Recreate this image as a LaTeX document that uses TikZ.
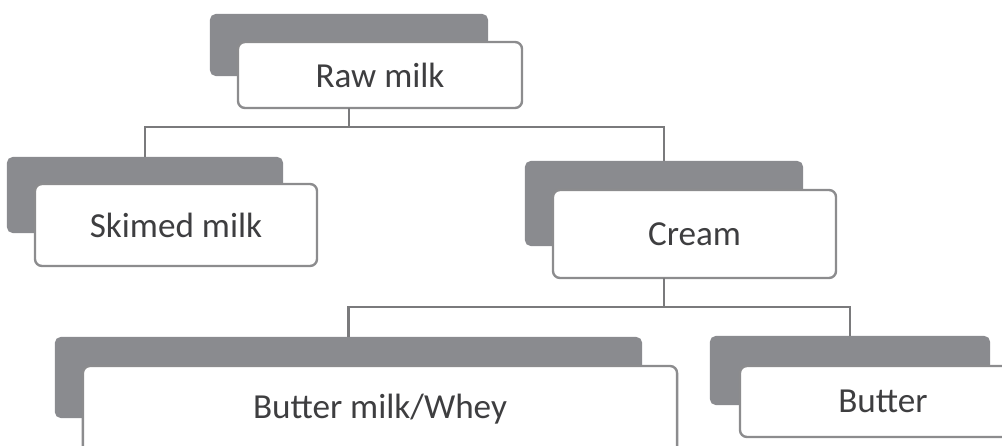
\documentclass[tikz,border=0pt]{standalone}
\usepackage{fontspec}
\setmainfont{Carlito}
\usetikzlibrary{positioning}
\definecolor{milkDark}{RGB}{138,139,143}
\definecolor{milkEdge}{RGB}{140,140,142}
\definecolor{milkLine}{RGB}{122,122,124}
\definecolor{milkText}{RGB}{62,62,64}

\begin{document}
\begin{tikzpicture}[
  x=0.025cm, y=-0.025cm,
  back/.style={
    fill=milkDark,
    rounded corners=4pt,
    inner sep=0pt,
    outer sep=0pt
  },
  front/.style={
    draw=milkEdge,
    fill=white,
    line width=1.7pt,
    rounded corners=5pt,
    inner sep=0pt,
    outer sep=0pt,
    text=milkText,
    font=\fontsize{25}{30}\selectfont
  },
  link/.style={draw=milkLine,line width=1.8pt}
]
  \clip (0,0) rectangle (1002,446);
  % first level
  \node[back,minimum width=6.95cm,minimum height=1.55cm] (raw-b) at (349,45) {};
  \node[front,minimum width=7.1cm,minimum height=1.65cm] (raw) at (380,75) {Raw milk};
  % second level
  \node[back,minimum width=6.9cm,minimum height=1.9cm] (skim-b) at (145,195) {};
  \node[front,minimum width=7.05cm,minimum height=2.05cm] (skim) at (176,225) {Skimed milk};
  \node[back,minimum width=6.95cm,minimum height=2.125cm] (cream-b) at (664,203.5) {};
  \node[front,minimum width=7.075cm,minimum height=2.2cm] (cream) at (694.5,234) {Cream};
  % third level
  \node[back,minimum width=14.675cm,minimum height=2.025cm] (whey-b) at (348.5,377.5) {};
  \node[front,minimum width=14.85cm,minimum height=2.175cm] (whey) at (380,409.5) {Butter milk/Whey};
  \node[back,minimum width=7.0cm,minimum height=1.725cm] (butter-b) at (850,370.5) {};
  \node[front,minimum width=7.15cm,minimum height=1.775cm] (butter) at (883,401.5) {Butter};
  % connectors
  \draw[link] (raw-b |- raw.south) -- ++(0,19) coordinate (fork-raw);
  \draw[link] (fork-raw) -| (skim-b.north);
  \draw[link] (fork-raw) -| (cream-b.north);
  \draw[link] (cream-b |- cream.south) -- ++(0,29) coordinate (fork-cream);
  \draw[link] (fork-cream) -| (whey-b.north);
  \draw[link] (fork-cream) -| (butter-b.north);
\end{tikzpicture}
\end{document}
